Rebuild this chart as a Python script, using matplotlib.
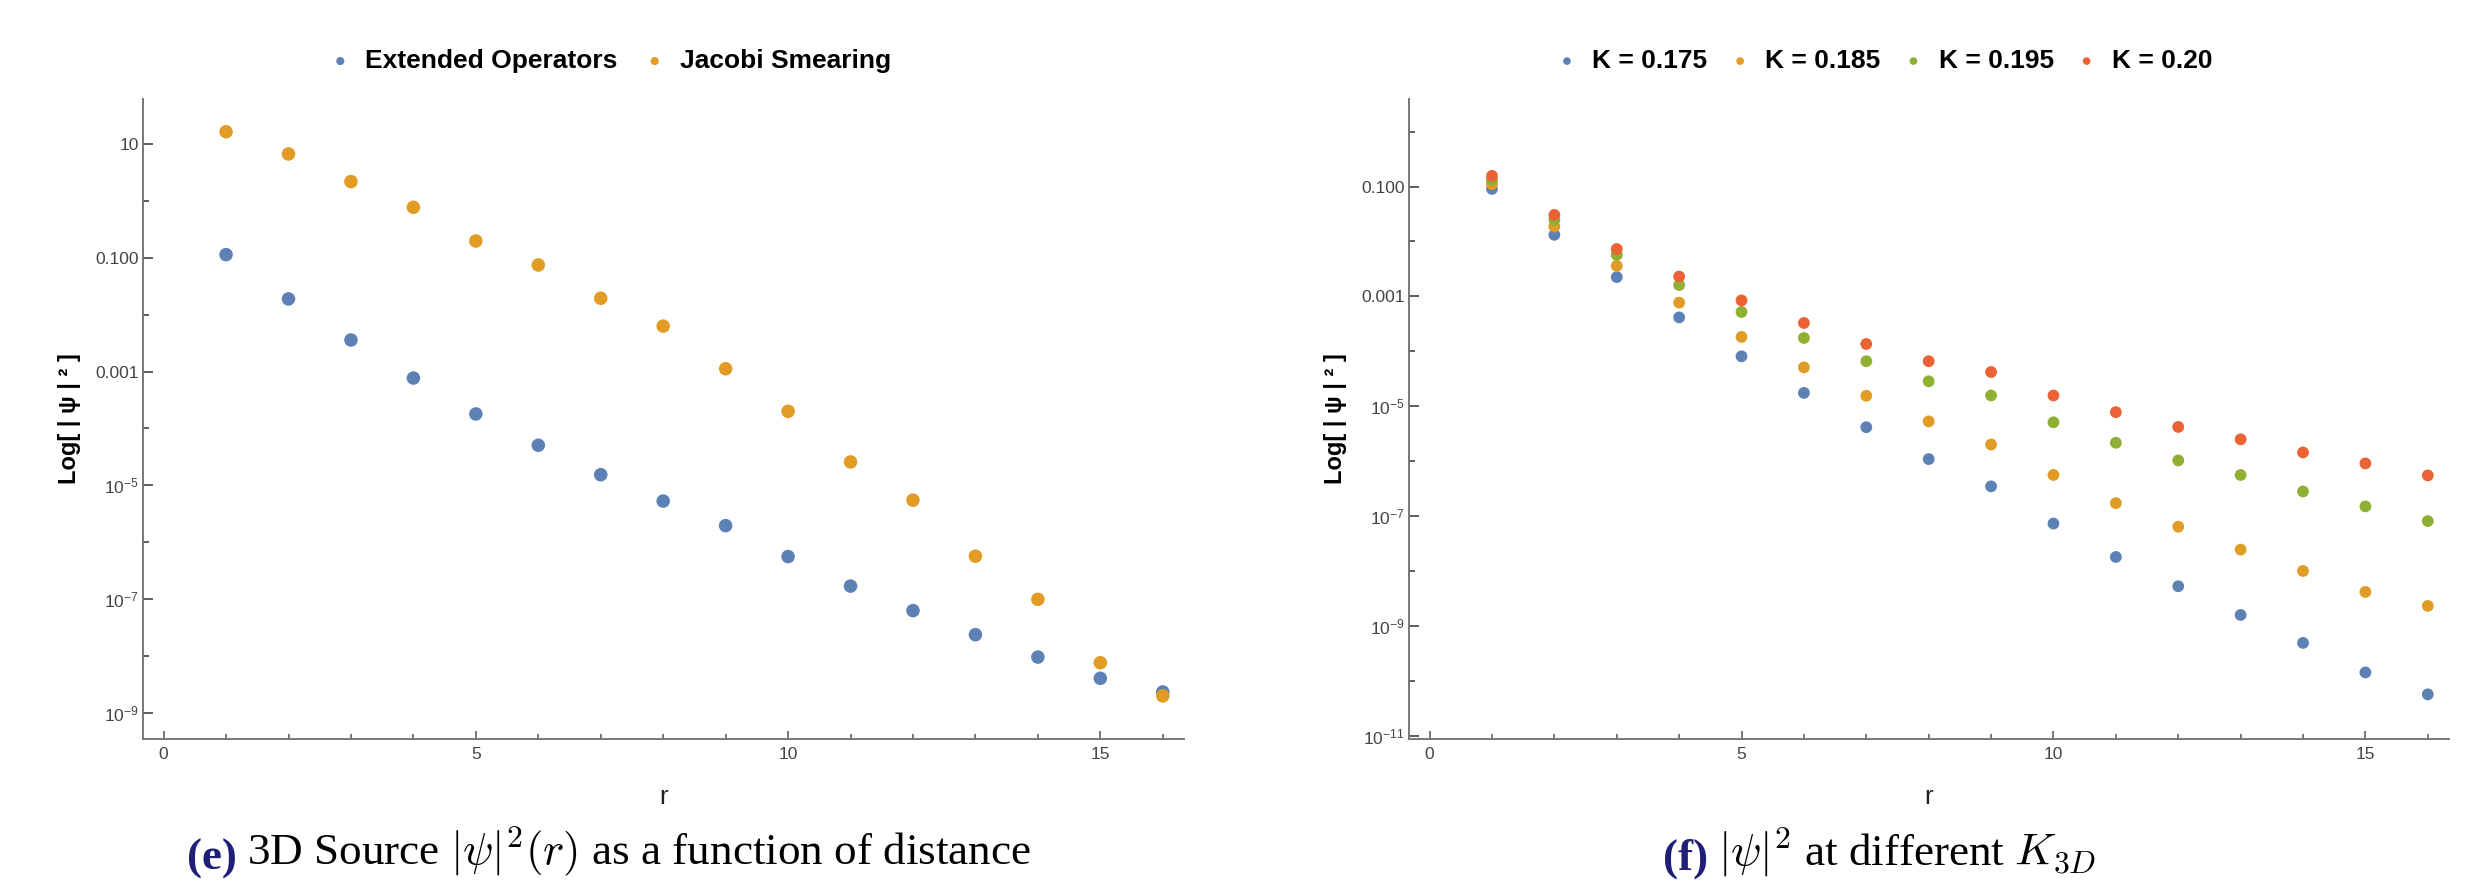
import matplotlib
matplotlib.use("Agg")
import matplotlib.pyplot as plt
import numpy as np

plt.rcParams['mathtext.fontset'] = 'custom'
plt.rcParams['mathtext.rm'] = 'Liberation Sans'
plt.rcParams['mathtext.it'] = 'Liberation Sans:italic'
plt.rcParams['mathtext.bf'] = 'Liberation Sans:bold'

# ---------------- data ----------------
r = list(range(1, 17))

extended_ops = [0.1135, 0.0189, 3.59e-3, 7.7e-4, 1.8e-4, 5.07e-5, 1.54e-5, 5.3e-6,
                1.96e-6, 5.6e-7, 1.7e-7, 6.3e-8, 2.38e-8, 9.6e-9, 4.07e-9, 2.34e-9]
jacobi = [16.4, 6.67, 2.18, 0.77, 0.197, 0.0746, 0.0194, 6.3e-3,
          1.12e-3, 2.0e-4, 2.58e-5, 5.5e-6, 5.7e-7, 9.95e-8, 7.65e-9, 2.0e-9]

k175 = [0.0908, 0.01325, 2.25e-3, 4.15e-4, 8.1e-5, 1.75e-5, 4.15e-6, 1.09e-6,
        3.47e-7, 7.3e-8, 1.8e-8, 5.27e-9, 1.58e-9, 4.9e-10, 1.42e-10, 5.66e-11]
k185 = [0.111, 0.01875, 3.6e-3, 7.7e-4, 1.83e-4, 5.1e-5, 1.55e-5, 5.3e-6,
        2.01e-6, 5.6e-7, 1.72e-7, 6.4e-8, 2.45e-8, 1.0e-8, 4.15e-9, 2.31e-9]
k195 = [0.132, 0.0248, 5.7e-3, 1.61e-3, 5.2e-4, 1.75e-4, 6.6e-5, 2.85e-5,
        1.57e-5, 5.1e-6, 2.16e-6, 1.03e-6, 5.6e-7, 2.8e-7, 1.5e-7, 8.1e-8]
k200 = [0.157, 0.0305, 7.3e-3, 2.3e-3, 8.45e-4, 3.28e-4, 1.36e-4, 6.6e-5,
        4.2e-5, 1.57e-5, 7.8e-6, 4.2e-6, 2.5e-6, 1.44e-6, 9.1e-7, 5.5e-7]

left_labels = ["Extended Operators", "Jacobi Smearing"]
right_labels = ["K = 0.175", "K = 0.185", "K = 0.195", "K = 0.20"]

x_major = [0, 5, 10, 15]
x_minor = list(range(0, 17))

left_yticks = [10, 0.1, 1e-3, 1e-5, 1e-7, 1e-9]
left_yticklabels = ["10", "0.100", "0.001", "$10^{-5}$", "$10^{-7}$", "$10^{-9}$"]
left_yminor = [1, 1e-2, 1e-4, 1e-6, 1e-8]

right_yticks = [0.1, 1e-3, 1e-5, 1e-7, 1e-9, 1e-11]
right_yticklabels = ["0.100", "0.001", "$10^{-5}$", "$10^{-7}$", "$10^{-9}$", "$10^{-11}$"]
right_yminor = [1, 1e-2, 1e-4, 1e-6, 1e-8, 1e-10]

colors = ["#5E81B5", "#E09C24", "#8FB032", "#EB6235"]

# ---------------- figure ----------------
W, H = 2483, 882
fig = plt.figure(figsize=(W / 100, H / 100), dpi=100)

def px_axes(x0, y0, x1, y1):
    return fig.add_axes([x0 / W, 1 - y1 / H, (x1 - x0) / W, (y1 - y0) / H])

axL = px_axes(143, 99, 1184, 739)
axR = px_axes(1409, 99, 2449, 739)

tick_font = dict(family="Liberation Sans", size=12.5, color="#444444")

def style(ax, yt, ytl, ymin, ylim):
    ax.set_yscale("log")
    ax.set_xlim(-0.33, 16.34)
    ax.set_ylim(*ylim)
    for s in ["top", "right"]:
        ax.spines[s].set_visible(False)
    for s in ["left", "bottom"]:
        ax.spines[s].set_color("#777777")
        ax.spines[s].set_linewidth(1.4)
    ax.set_xticks(x_major)
    ax.set_xticks([v for v in x_minor if v not in x_major], minor=True)
    ax.set_xticklabels([str(v) for v in x_major])
    ax.set_yticks(yt)
    ax.set_yticklabels(ytl)
    ax.set_yticks(ymin, minor=True)
    ax.yaxis.set_minor_formatter(matplotlib.ticker.NullFormatter())
    ax.tick_params(axis="x", which="major", direction="in", length=6, width=1.1,
                   color="#555555", pad=6)
    ax.tick_params(axis="x", which="minor", direction="in", length=3.5, width=1.1,
                   color="#555555")
    ax.tick_params(axis="y", which="major", direction="in", length=7, width=1.1,
                   color="#333333", pad=3)
    ax.tick_params(axis="y", which="minor", direction="in", length=4, width=1.1,
                   color="#333333")
    for lab in ax.get_xticklabels() + ax.get_yticklabels():
        lab.set_fontfamily(tick_font["family"])
        lab.set_fontsize(tick_font["size"])
        lab.set_color(tick_font["color"])
    ax.set_xlabel("r", fontsize=19, family="Liberation Sans", color="#222222", labelpad=16)
    ax.set_ylabel("Log[ | ψ | ² ]", fontsize=17, family="Liberation Sans",
                  fontweight="bold", labelpad=10)

style(axL, left_yticks, left_yticklabels, left_yminor, (10 ** -9.457, 10 ** 1.79))
style(axR, right_yticks, right_yticklabels, right_yminor, (10 ** -11.06, 10 ** 0.595))

hL = []
for vals, c, lab in zip([extended_ops, jacobi], colors[:2], left_labels):
    hL.append(axL.scatter(r, vals, s=95, color=c, edgecolors="none", label=lab,
                          clip_on=False, zorder=3))
hR = []
for vals, c, lab in zip([k175, k185, k195, k200], colors, right_labels):
    hR.append(axR.scatter(r, vals, s=72, color=c, edgecolors="none", label=lab,
                          clip_on=False, zorder=3))

leg_font = dict(family="Liberation Sans", weight="bold", size=19)
fig.legend(handles=hL, loc="center", bbox_to_anchor=(609 / W, 1 - 61 / H), ncol=2,
           frameon=False, prop=leg_font, markerscale=0.6, handletextpad=0.45,
           columnspacing=0.9, handlelength=1.0)
fig.legend(handles=hR, loc="center", bbox_to_anchor=(1883 / W, 1 - 61 / H), ncol=4,
           frameon=False, prop=leg_font, markerscale=0.65, handletextpad=0.45,
           columnspacing=0.75, handlelength=1.0)

# captions
cap_kw = dict(fontsize=32.5, family="Liberation Serif", math_fontfamily="cm")
navy = "#1f1f78"
t1 = fig.text(187 / W, 1 - 870 / H, "(e)", color=navy, fontweight="bold",
              fontsize=32.5, family="Liberation Serif", va="baseline")
axL.annotate(r"3D Source $|\psi|^2(r)$ as a function of distance", xy=(1, 0),
             xycoords=t1, xytext=(7, 0), textcoords="offset points",
             va="bottom", ha="left", annotation_clip=False, color="black", **cap_kw)
t2 = fig.text(1663 / W, 1 - 870 / H, "(f)", color=navy, fontweight="bold",
              fontsize=32.5, family="Liberation Serif", va="baseline")
axR.annotate(r"$|\psi|^2$ at different $K_{3D}$", xy=(1, 0),
             xycoords=t2, xytext=(7, 0), textcoords="offset points",
             va="bottom", ha="left", annotation_clip=False, color="black", **cap_kw)

fig.savefig("out.png", dpi=100)
